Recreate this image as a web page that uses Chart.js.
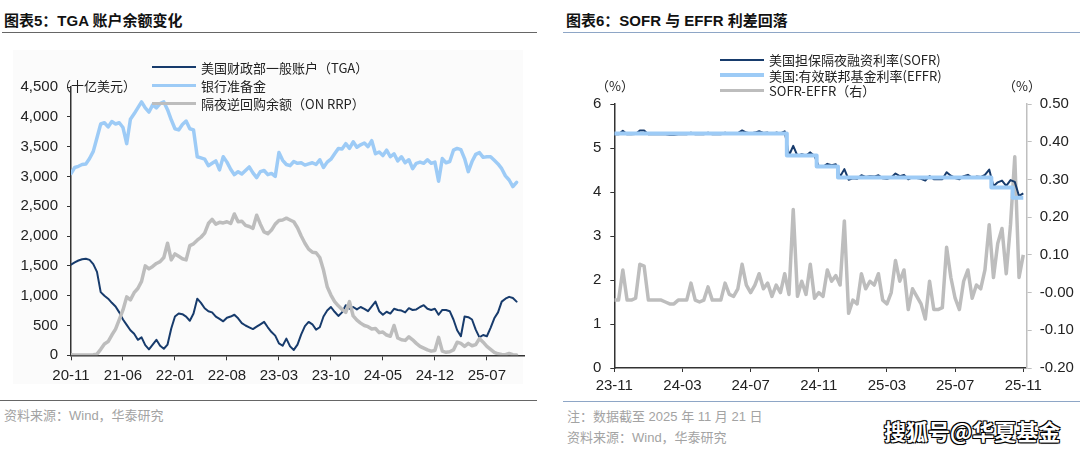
<!DOCTYPE html>
<html lang="zh-CN">
<head>
<meta charset="utf-8">
<title>TGA 账户余额 / SOFR 与 EFFR 利差</title>
<script src="https://cdn.jsdelivr.net/npm/chart.js@4.4.1/dist/chart.umd.min.js"></script>
<style>
  html, body { margin: 0; padding: 0; background: #fff; }
  body {
    width: 1080px; height: 452px; position: relative; overflow: hidden;
    font-family: "Liberation Sans", Arial, "Noto Sans CJK SC", sans-serif; color: #222;
  }
  .abs { position: absolute; white-space: nowrap; }
  .title { top: 9px; font-size: 15px; font-weight: bold; letter-spacing: 0; color: #111; }
  .rule { height: 0; }
  .panel-bg { left: 13px; top: 50px; width: 510px; height: 334px; background: #fbfbfb; }
  .unit { font-size: 13px; font-family: "Noto Sans CJK SC", sans-serif; color: #222; }
  .note { font-size: 13px; color: #a3a3a3; font-family: "Liberation Sans", "Noto Sans CJK SC", sans-serif; }
  .legend { font-family: "Noto Sans CJK SC", sans-serif; font-size: 13px; color: #222; }
  .lg-row { display: flex; align-items: center; }
  .lg-line { display: inline-block; width: 44px; margin-right: 5px; }
  canvas { position: absolute; top: 0; }
  .mark {
    font-family: "Noto Sans CJK SC", sans-serif; font-weight: bold; font-size: 22px; color: #fff;
    text-shadow: -1px -1px 0 #000, 1px -1px 0 #000, -1px 1px 0 #000, 1px 1px 0 #000, 0 0 2px #000;
  }
</style>
</head>
<body>
  <div class="abs title" style="left:4px;">图表5：TGA 账户余额变化</div>
  <div class="abs rule" style="left:2px; top:32px; width:535px; border-top:1.5px solid #666;"></div>
  <div class="abs title" style="left:566px;">图表6：SOFR 与 EFFR 利差回落</div>
  <div class="abs rule" style="left:563px; top:32px; width:517px; border-top:1.5px solid #8ea6c6;"></div>

  <div class="abs panel-bg"></div>

  <canvas id="tgaChart" width="540" height="400" style="left:0;"></canvas>
  <canvas id="rateChart" width="540" height="400" style="left:540px;"></canvas>

  <div class="abs unit" style="left:58px; top:76px;">（十亿美元）</div>
  <div class="abs unit" style="left:596px; top:76px;">（%）</div>
  <div class="abs unit" style="left:1003px; top:76px;">（%）</div>

  <div id="tgaLegend" class="abs legend" style="left:152px; top:58px;"></div>
  <div id="rateLegend" class="abs legend" style="left:720px; top:52px;"></div>

  <div class="abs rule" style="left:0; top:400px; width:537px; border-top:1.5px solid #666;"></div>
  <div class="abs note" style="left:4px; top:405px;">资料来源：Wind，华泰研究</div>
  <div class="abs rule" style="left:563px; top:401px; width:517px; border-top:1.5px solid #8ea6c6;"></div>
  <div class="abs note" style="left:567px; top:406px;">注：数据截至 2025 年 11 月 21 日</div>
  <div class="abs note" style="left:567px; top:427px;">资料来源：Wind，华泰研究</div>
  <div class="abs mark" style="left:884px; top:414px;">搜狐号@华夏基金</div>

<script>
/* ── Left chart data: half-month steps from 2020-11, 十亿美元 ── */
const tgaTicks = ["20-11", "21-06", "22-01", "22-08", "23-03", "23-10", "24-05", "24-12", "25-07"];

const tga = [
  1520, 1560, 1590, 1610, 1620, 1600, 1530, 1400, 1060, 1000,
  950, 880, 820, 720, 600, 510, 420, 360, 260, 300,
  170, 100, 180, 260, 160, 110, 180, 450, 650, 700,
  690, 650, 580, 700, 950, 880, 790, 740, 720, 650,
  610, 570, 630, 650, 680, 620, 540, 500, 470, 440,
  480, 520, 560, 470, 390, 330, 200, 160, 280, 150,
  90, 180, 350, 490, 560, 520, 430, 470, 650, 750,
  810, 730, 660, 720, 840, 780, 810, 770, 810, 780,
  740, 820, 900, 740, 680, 730, 700, 780, 760, 750,
  720, 790, 760, 770, 810, 840, 780, 760, 780, 680,
  760, 760, 740, 600, 420, 320, 650, 640, 600, 430,
  300, 340, 320, 460, 620, 720, 900, 950, 980, 960,
  900,
];

const reserves = [
  3050, 3150, 3170, 3200, 3210, 3300, 3420, 3650, 3880, 3900,
  3830, 3920, 3880, 3900, 3820, 3550, 3960, 4050, 4150, 4250,
  4150, 4080, 4200, 4150, 4220, 4250, 4120, 3950, 3800, 3780,
  3870, 3930, 3800, 3780, 3330, 3310, 3290, 3180, 3220, 3260,
  3110, 3330, 3240, 3120, 3030, 3080, 3040, 3100, 3160, 3060,
  2980, 3080, 3100, 3030, 3050, 3000, 3400, 3270, 3200, 3180,
  3250, 3220, 3230, 3190, 3210, 3230, 3200, 3280, 3150, 3240,
  3290, 3380, 3470, 3460, 3550, 3470, 3580, 3490, 3530, 3560,
  3500, 3600, 3380, 3410, 3350, 3440, 3330, 3380, 3260, 3330,
  3230, 3280, 3130, 3220, 3240, 3220, 3280, 3220, 3240, 2920,
  3300, 3230, 3250, 3440, 3470, 3450, 3300, 3080, 3250, 3370,
  3400, 3320, 3330, 3330, 3270, 3210, 3130, 3010, 2940, 2830,
  2900,
];

const onRrp = [
  10, 5, 5, 5, 5, 5, 10, 20, 100, 190,
  230, 340, 440, 600, 760, 980, 930, 1050, 1120, 1240,
  1500, 1450, 1490, 1540, 1570, 1640, 1880, 1600, 1700, 1660,
  1620, 1600, 1840, 1870, 1930, 1980, 2050, 2210, 2280, 2200,
  2230, 2220, 2240, 2210, 2370, 2240, 2250, 2180, 2160, 2130,
  2350, 2200, 2070, 2040, 2100, 2200, 2260, 2270, 2300, 2270,
  2240, 2140, 2000, 1880, 1780, 1730, 1720, 1640, 1430, 1150,
  1010, 900, 830, 770, 720, 900, 660, 590, 540, 500,
  480, 440, 450, 380, 390, 340, 320, 500, 290, 260,
  250, 310, 260, 200, 150, 120, 90, 70, 80, 300,
  70, 50, 60, 90, 220, 200, 150, 200, 160, 180,
  280, 220, 150, 100, 50, 25, 15, 10, 30, 10,
  5,
];

/* ── Right chart data: quarter-month steps from 2023-11, % ── */
const rateTicks = ["23-11", "24-03", "24-07", "24-11", "25-03", "25-07", "25-11"];

const sofr = [
  5.31, 5.31, 5.39, 5.31, 5.31, 5.32, 5.40, 5.40, 5.31, 5.31,
  5.31, 5.31, 5.31, 5.30, 5.30, 5.31, 5.31, 5.31, 5.35, 5.31,
  5.31, 5.31, 5.35, 5.31, 5.31, 5.31, 5.35, 5.32, 5.32, 5.34,
  5.40, 5.35, 5.33, 5.35, 5.38, 5.34, 5.35, 5.32, 5.35, 5.33,
  5.38, 4.83, 5.05, 4.82, 4.86, 4.83, 4.90, 4.82, 4.58, 4.57,
  4.64, 4.61, 4.63, 4.35, 4.52, 4.28, 4.31, 4.30, 4.38, 4.34,
  4.36, 4.35, 4.38, 4.31, 4.30, 4.33, 4.42, 4.36, 4.39, 4.29,
  4.34, 4.32, 4.30, 4.26, 4.36, 4.29, 4.29, 4.29, 4.45, 4.37,
  4.32, 4.29, 4.36, 4.39, 4.32, 4.35, 4.34, 4.39, 4.51, 4.13,
  4.22, 4.26, 4.14, 4.27, 4.23, 3.91, 3.97,
];

const effr = [
  5.33, 5.33, 5.33, 5.33, 5.33, 5.33, 5.33, 5.33, 5.33, 5.33,
  5.33, 5.33, 5.33, 5.33, 5.33, 5.33, 5.33, 5.33, 5.33, 5.33,
  5.33, 5.33, 5.33, 5.33, 5.33, 5.33, 5.33, 5.33, 5.33, 5.33,
  5.33, 5.33, 5.33, 5.33, 5.33, 5.33, 5.33, 5.33, 5.33, 5.33,
  5.33, 4.83, 4.83, 4.83, 4.83, 4.83, 4.83, 4.83, 4.58, 4.58,
  4.58, 4.58, 4.58, 4.33, 4.33, 4.33, 4.33, 4.33, 4.33, 4.33,
  4.33, 4.33, 4.33, 4.33, 4.33, 4.33, 4.33, 4.33, 4.33, 4.33,
  4.33, 4.33, 4.33, 4.33, 4.33, 4.33, 4.33, 4.33, 4.33, 4.33,
  4.33, 4.33, 4.33, 4.33, 4.33, 4.33, 4.33, 4.33, 4.33, 4.10,
  4.10, 4.10, 4.10, 4.10, 3.87, 3.87, 3.87,
];

const spread = [
  -0.02, -0.02, 0.06, -0.02, -0.02, -0.015, 0.075, 0.07, -0.02, -0.02,
  -0.02, -0.02, -0.025, -0.03, -0.03, -0.02, -0.02, -0.02, 0.025, -0.02,
  -0.025, -0.02, 0.015, -0.02, -0.02, -0.02, 0.025, -0.005, -0.01, 0.01,
  0.075, 0.02, 0.0, 0.02, 0.05, 0.01, 0.025, -0.01, 0.02, 0.0,
  0.05, -0.005, 0.22, -0.01, 0.03, -0.005, 0.075, -0.015, 0.0, -0.01,
  0.06, 0.03, 0.045, 0.02, 0.19, -0.055, -0.02, -0.03, 0.05, 0.01,
  0.03, 0.02, 0.05, -0.02, -0.03, 0.0, 0.085, 0.03, 0.06, -0.045,
  0.01, -0.01, -0.03, -0.07, 0.03, -0.045, -0.045, -0.04, 0.12, 0.04,
  -0.015, -0.045, 0.03, 0.06, -0.015, 0.02, 0.01, 0.06, 0.18, 0.04,
  0.13, 0.17, 0.05, 0.18, 0.36, 0.04, 0.10,
];

/* ── Styling ── */
const COLORS = {
  navy: "#173b6c",
  sky: "#9dcbf6",
  grey: "#bdbdbd",
  axis: "#333333",
  axisGrey: "#bfbfbf",
  text: "#222222",
};
const TICK_FONT = { family: "'Liberation Sans', Arial, sans-serif", size: 15 };

const toPoints = (values, step) => values.map((v, i) => ({ x: i * step, y: v }));

function buildLegend(el, items) {
  items.forEach((it) => {
    const row = document.createElement("div");
    row.className = "lg-row";
    row.style.height = it.rowH + "px";
    row.innerHTML =
      `<span class="lg-line" style="border-top:${it.w}px solid ${it.c}"></span>` +
      `<span>${it.label}</span>`;
    el.appendChild(row);
  });
}

/* ── 图表5: TGA / 银行准备金 / ON RRP ── */
const tgaSeries = [
  { label: "美国财政部一般账户（TGA）", data: tga, c: COLORS.navy, w: 2, order: 1 },
  { label: "银行准备金", data: reserves, c: COLORS.sky, w: 3.5, order: 2 },
  { label: "隔夜逆回购余额（ON RRP）", data: onRrp, c: COLORS.grey, w: 3.5, order: 0 },
];

new Chart(document.getElementById("tgaChart"), {
  type: "line",
  data: {
    datasets: tgaSeries.map((s) => ({
      label: s.label,
      data: toPoints(s.data, 0.5),
      borderColor: s.c,
      borderWidth: s.w,
      order: s.order,
    })),
  },
  options: {
    responsive: false,
    animation: false,
    layout: { padding: { top: 87, right: 16, bottom: 0, left: 0 } },
    elements: {
      point: { radius: 0 },
      line: { tension: 0, borderJoinStyle: "round", borderCapStyle: "round" },
    },
    plugins: { legend: { display: false }, tooltip: { enabled: false } },
    scales: {
      x: {
        type: "linear",
        min: 0,
        max: 61,
        afterFit: (s) => { s.height = 44.7; },
        afterBuildTicks: (s) => { s.ticks = tgaTicks.map((_, i) => ({ value: i * 7 })); },
        ticks: {
          callback: (v, i) => tgaTicks[i],
          font: TICK_FONT, color: COLORS.text, padding: 7, maxRotation: 0, autoSkip: false,
        },
        grid: { drawOnChartArea: false, tickLength: 5, color: COLORS.axis },
        border: { color: COLORS.axis, width: 1.5 },
      },
      y: {
        min: 0,
        max: 4500,
        afterFit: (s) => { s.width = 71; },
        ticks: { stepSize: 500, font: TICK_FONT, color: COLORS.text, padding: 9 },
        grid: { drawOnChartArea: false, tickLength: 4, color: COLORS.axis },
        border: { color: COLORS.axis, width: 1.5 },
      },
    },
  },
});

buildLegend(
  document.getElementById("tgaLegend"),
  tgaSeries.map((s) => ({ label: s.label, c: s.c, w: s.w, rowH: 18 })),
);

/* ── 图表6: SOFR / EFFR / 利差 ── */
const rateSeries = [
  { label: "美国担保隔夜融资利率(SOFR)", data: sofr, c: COLORS.navy, w: 2, order: 1, axis: "y", stepped: false },
  { label: "美国:有效联邦基金利率(EFFR)", data: effr, c: COLORS.sky, w: 4, order: 0, axis: "y", stepped: "middle" },
  { label: "SOFR-EFFR（右）", data: spread, c: COLORS.grey, w: 3.5, order: 2, axis: "y1", stepped: false },
];

new Chart(document.getElementById("rateChart"), {
  type: "line",
  data: {
    datasets: rateSeries.map((s) => ({
      label: s.label,
      data: toPoints(s.data, 0.25),
      borderColor: s.c,
      borderWidth: s.w,
      order: s.order,
      yAxisID: s.axis,
      stepped: s.stepped,
    })),
  },
  options: {
    responsive: false,
    animation: false,
    layout: { padding: { top: 104, right: 0, bottom: 0, left: 0 } },
    elements: {
      point: { radius: 0 },
      line: { tension: 0, borderJoinStyle: "round" },
    },
    plugins: { legend: { display: false }, tooltip: { enabled: false } },
    scales: {
      x: {
        type: "linear",
        min: 0,
        max: 24.2,
        afterFit: (s) => { s.height = 32; },
        afterBuildTicks: (s) => { s.ticks = rateTicks.map((_, i) => ({ value: i * 4 })); },
        ticks: {
          callback: (v, i) => rateTicks[i],
          font: TICK_FONT, color: COLORS.text, padding: 5, maxRotation: 0, autoSkip: false,
        },
        grid: { drawOnChartArea: false, tickLength: 4, color: COLORS.axis },
        border: { color: COLORS.axis, width: 1.5 },
      },
      y: {
        position: "left",
        min: 0,
        max: 6,
        afterFit: (s) => { s.width = 74.3; },
        ticks: { stepSize: 1, font: TICK_FONT, color: COLORS.text, padding: 9 },
        grid: { drawOnChartArea: false, tickLength: 4, color: COLORS.axis },
        border: { color: COLORS.axis, width: 1.5 },
      },
      y1: {
        position: "right",
        min: -0.2,
        max: 0.5,
        afterFit: (s) => { s.width = 53.3; },
        ticks: {
          stepSize: 0.1,
          callback: (v) => v.toFixed(2),
          font: TICK_FONT, color: COLORS.text, padding: 8,
        },
        grid: { drawOnChartArea: false, tickLength: 5, color: COLORS.axisGrey },
        border: { color: COLORS.axisGrey, width: 1.5 },
      },
    },
  },
});

buildLegend(
  document.getElementById("rateLegend"),
  rateSeries.map((s) => ({ label: s.label, c: s.c, w: s.w, rowH: 15.5 })),
);
</script>
</body>
</html>
